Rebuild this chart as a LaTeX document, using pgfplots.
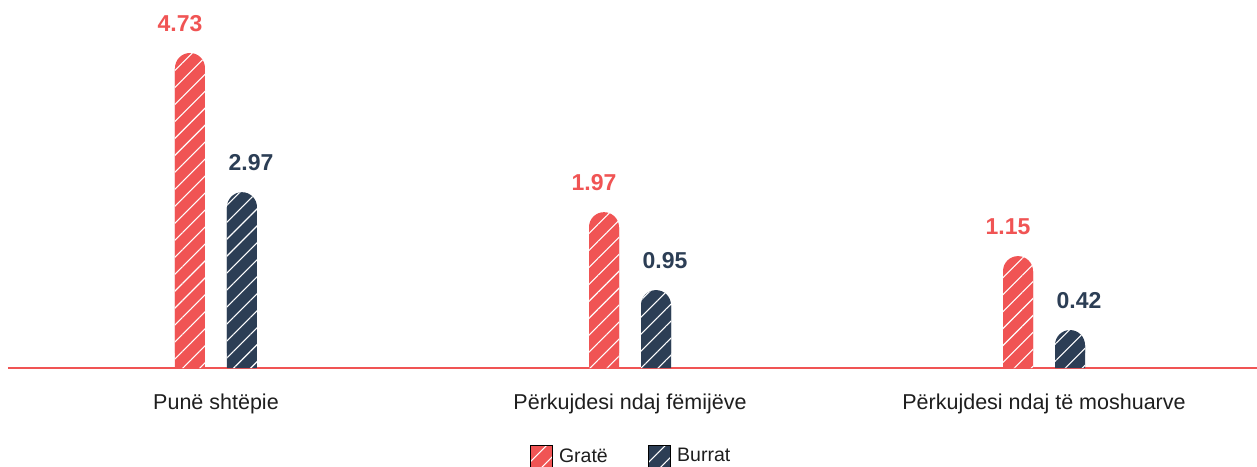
\documentclass[border=0pt]{standalone}
\usepackage{fontspec}
\setmainfont{Liberation Sans}
\usepackage{pgfplots}
\usepackage{pgfplotstable}
\pgfplotsset{compat=1.18}
\usetikzlibrary{patterns.meta}
\definecolor{redc}{RGB}{240,84,84}
\definecolor{navy}{RGB}{44,62,85}
\definecolor{txt}{RGB}{30,30,30}
\tikzset{hatch/.style={postaction={pattern={Lines[angle=45,distance=12pt,line width=1.1pt]},pattern color=white}}}

% bar heights as drawn (h) and printed values (lab)
\pgfplotstableread{
x h lab
0 4.73 4.73
1 2.34 1.97
2 1.68 1.15
}\gratetab
\pgfplotstableread{
x h lab
0 2.64 2.97
1 1.17 0.95
2 0.57 0.42
}\burrattab

\begin{document}
\begin{tikzpicture}
\useasboundingbox (0,0) rectangle (1257pt,466pt);
\begin{axis}[
  at={(8pt,98pt)}, anchor=south west,
  scale only axis, width=1249pt, height=368pt,
  xmin=-0.5024, xmax=2.5145, ymin=0, ymax=5.5255,
  axis y line=none, axis x line*=bottom,
  x axis line style={redc, line width=1.6pt, -},
  xtick={0,1,2},
  xticklabels={Punë shtëpie, Përkujdesi ndaj fëmijëve, Përkujdesi ndaj të moshuarve},
  major tick length=0pt,
  xticklabel style={font=\fontsize{21.5}{25}\selectfont, text=txt, inner sep=0pt, anchor=north, yshift=-26pt},
  legend style={at={(0.4988,-0.2391)}, anchor=center, draw=none, fill=none,
    font=\fontsize{19.5}{23}\selectfont, text=txt,
    /tikz/every odd column/.append style={column sep=5pt},
    /tikz/every even column/.append style={column sep=38pt}},
  legend columns=2,
  nodes near coords style={font=\bfseries\fontsize{23}{27}\selectfont, inner sep=0pt, anchor=south, yshift=21.5pt},
]
% Gratë
\addplot[ybar, bar width=30pt, bar shift=-26pt, draw=none, fill=redc, hatch, forget plot]
  table[x=x, y expr=\thisrow{h}-0.23]{\gratetab};
\addplot[ybar, bar width=30pt, bar shift=-26pt, draw=none, fill=redc, hatch, rounded corners=15pt, forget plot,
  nodes near coords, point meta=explicit symbolic, every node near coord/.append style={text=redc, xshift=-36pt}]
  table[x=x, y=h, meta=lab]{\gratetab};
% Burrat
\addplot[ybar, bar width=30pt, bar shift=26pt, draw=none, fill=navy, hatch, forget plot]
  table[x=x, y expr=\thisrow{h}-0.23]{\burrattab};
\addplot[ybar, bar width=30pt, bar shift=26pt, draw=none, fill=navy, hatch, rounded corners=15pt, forget plot,
  nodes near coords, point meta=explicit symbolic, every node near coord/.append style={text=navy, xshift=35pt}]
  table[x=x, y=h, meta=lab]{\burrattab};

\addlegendimage{legend image code/.code={
  \fill[redc] (0pt,-11pt) rectangle (22pt,11pt);
  \fill[pattern={Lines[angle=45,distance=12pt,line width=1.1pt]},pattern color=white] (0pt,-11pt) rectangle (22pt,11pt);}}
\addlegendentry{Gratë}
\addlegendimage{legend image code/.code={
  \fill[navy] (0pt,-11pt) rectangle (22pt,11pt);
  \fill[pattern={Lines[angle=45,distance=12pt,line width=1.1pt]},pattern color=white] (0pt,-11pt) rectangle (22pt,11pt);}}
\addlegendentry{Burrat}
\end{axis}
\end{tikzpicture}
\end{document}
